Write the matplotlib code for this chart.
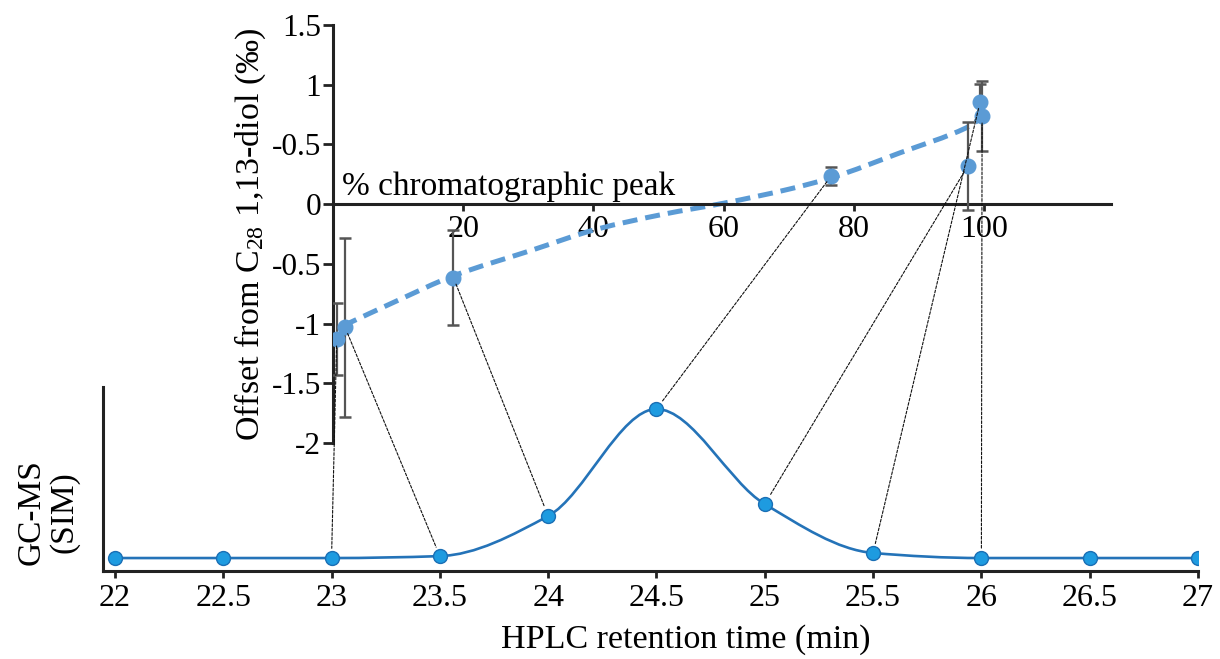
import numpy as np
import matplotlib
matplotlib.use("Agg")
import matplotlib.pyplot as plt
from matplotlib.path import Path
from matplotlib.patches import PathPatch, ConnectionPatch

plt.rcParams['font.family'] = ['Liberation Serif', 'DejaVu Serif']
plt.rcParams['mathtext.fontset'] = 'custom'
plt.rcParams['mathtext.rm'] = 'Liberation Serif'
plt.rcParams['mathtext.it'] = 'Liberation Serif:italic'

# chromatogram (bottom panel)
rt = [22, 22.5, 23, 23.5, 24, 24.5, 25, 25.5, 26, 26.5, 27]
signal = [0, 0, 0, 0.013, 0.282, 1.0, 0.362, 0.034, 0, 0, 0]

# isotope offsets (top panel)
peak_pct = [0.57, 1.84, 18.5, 76.5, 97.5, 99.4, 99.7]
offset = [-1.13, -1.03, -0.616, 0.234, 0.32, 0.857, 0.737]
offset_err = [0.30, 0.75, 0.40, 0.075, 0.37, 0.15, 0.29]
# which fraction each measurement comes from
fraction_rt = [23, 23.5, 24, 24.5, 25, 25.5, 26]

# dashed trend line
fit_x = [1.5, 9.8, 18.5, 30.3, 40.5, 50.7, 60.2, 70, 76.5, 87.1, 97.3, 98.9]
fit_y = [-1.02, -0.81, -0.60, -0.39, -0.21, -0.085, 0.01, 0.125, 0.22, 0.43, 0.64, 0.695]

y_ticks = [1.5, 1, 0.5, 0, -0.5, -1, -1.5, -2]
y_ticklabels = ["1.5", "1", "-0.5", "0", "-0.5", "-1", "-1.5", "-2"]
x_ticks_top = [20, 40, 60, 80, 100]
x_ticks_bottom = [22, 22.5, 23, 23.5, 24, 24.5, 25, 25.5, 26, 26.5, 27]


def smooth_path(x, y):
    # monotone cubic (Fritsch-Carlson) through the points, as bezier segments
    x = np.asarray(x, float)
    y = np.asarray(y, float)
    h = np.diff(x)
    d = np.diff(y) / h
    m = np.zeros_like(y)
    m[0], m[-1] = d[0], d[-1]
    for i in range(1, len(y) - 1):
        if d[i - 1] * d[i] > 0:
            m[i] = 2 / (1 / d[i - 1] + 1 / d[i])
    verts = [(x[0], y[0])]
    codes = [Path.MOVETO]
    for i in range(len(x) - 1):
        verts += [(x[i] + h[i] / 3, y[i] + m[i] * h[i] / 3),
                  (x[i + 1] - h[i] / 3, y[i + 1] - m[i + 1] * h[i] / 3),
                  (x[i + 1], y[i + 1])]
        codes += [Path.CURVE4] * 3
    return Path(verts, codes)


fig = plt.figure(figsize=(12.2, 6.59), dpi=100)
axb = fig.add_axes([103 / 1220, 1 - 571 / 659, 1095 / 1220, 184 / 659])
axt = fig.add_axes([333 / 1220, 1 - 443 / 659, 778 / 1220, 418 / 659])
for a in (axb, axt):
    a.patch.set_visible(False)

# --- bottom panel
axb.add_patch(PathPatch(smooth_path(rt, signal), fill=False, ec='#2473b8', lw=1.9, zorder=2))
axb.plot(rt, signal, ls='none', marker='o', ms=10, mfc='#1e9be0', mec='#1a6fb5', mew=1.0, zorder=3)
axb.set_xlim(21.945, 27)
axb.set_ylim(-0.087, 1.148)
axb.set_xticks(x_ticks_bottom)
axb.set_xticklabels([f"{v:g}" for v in x_ticks_bottom])
axb.set_yticks([])
for s in ('top', 'right'):
    axb.spines[s].set_visible(False)
for s in ('left', 'bottom'):
    axb.spines[s].set_linewidth(2.2)
    axb.spines[s].set_color('#222222')
axb.tick_params(axis='x', length=5, width=2, color='#222222', labelsize=23, pad=4)
axb.set_xlabel("HPLC retention time (min)", fontsize=24.5)
axb.xaxis.set_label_coords(0.532, -0.29)
fig.text(48 / 1220, 1 - 512 / 659, "GC-MS\n(SIM)", rotation=90, ha='center', va='center',
         multialignment='center', fontsize=24, linespacing=1.1)

# --- top panel
axt.add_patch(PathPatch(smooth_path(fit_x, fit_y), fill=False, ec='#5b9bd5', lw=3.6,
                        ls=(0, (3.0, 1.6)), zorder=2))
axt.errorbar(peak_pct, offset, yerr=offset_err, fmt='o', ms=10.5, color='#5b9bd5',
             ecolor='#555555', elinewidth=1.6, capsize=4, capthick=1.8, zorder=3)
axt.set_xlim(0, 119.5)
axt.set_ylim(-2, 1.5)
axt.spines['bottom'].set_position(('data', 0))
for s in ('top', 'right'):
    axt.spines[s].set_visible(False)
for s in ('left', 'bottom'):
    axt.spines[s].set_linewidth(2.2)
    axt.spines[s].set_color('#222222')
axt.set_xticks(x_ticks_top)
axt.set_xticklabels([str(v) for v in x_ticks_top])
axt.set_yticks(y_ticks)
axt.set_yticklabels(y_ticklabels)
axt.tick_params(axis='x', length=5, width=2, color='#222222', labelsize=23, pad=3)
axt.tick_params(axis='y', length=7.5, width=2, color='#222222', labelsize=22.5, pad=1)
axt.set_ylabel(r"Offset from C$_{\mathrm{28}}$ 1,13-diol (‰)", fontsize=24.5, labelpad=3)
axt.text(1.4, 0.08, "% chromatographic peak", fontsize=24, ha='left', va='baseline')

# dotted lines from each measurement to its fraction
for px, py, fr in zip(peak_pct, offset, fraction_rt):
    i = rt.index(fr)
    con = ConnectionPatch(xyA=(px, py), coordsA=axt.transData,
                          xyB=(fr, signal[i]), coordsB=axb.transData,
                          arrowstyle='-', shrinkA=5, shrinkB=7, color='#111111',
                          lw=0.8, ls=(0, (2.5, 1.5)), zorder=1)
    fig.add_artist(con)

fig.savefig("out.png", dpi=100)
